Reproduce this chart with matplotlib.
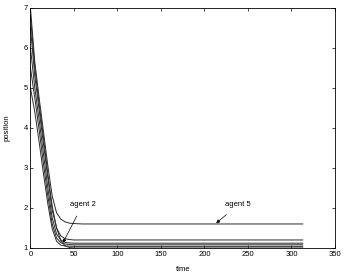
import matplotlib.pyplot as plt

t = [0, 5, 10, 15, 20, 25, 30, 35, 40, 45, 50, 60, 313]
agent_a = [7.0, 5.65, 4.75, 3.9, 3.05, 2.3, 1.88, 1.72, 1.65, 1.62, 1.61, 1.6, 1.6]
agent_b = [6.5, 5.3, 4.45, 3.6, 2.75, 1.95, 1.5, 1.3, 1.23, 1.21, 1.2, 1.2, 1.2]
agent_c = [6.0, 5.0, 4.2, 3.35, 2.5, 1.75, 1.35, 1.2, 1.14, 1.125, 1.12, 1.12, 1.12]
agent_d = [5.5, 4.75, 3.95, 3.1, 2.3, 1.6, 1.25, 1.13, 1.1, 1.085, 1.08, 1.08, 1.08]
agent_e = [5.0, 4.4, 3.65, 2.85, 2.1, 1.48, 1.17, 1.07, 1.05, 1.045, 1.04, 1.04, 1.04]
agent_f = [6.8, 5.5, 4.6, 3.75, 2.85, 2.05, 1.5, 1.18, 1.05, 1.01, 1.0, 1.0, 1.0]

plt.rcParams['font.family'] = ['Liberation Sans', 'DejaVu Sans']
plt.rcParams['font.size'] = 5.5

fig = plt.figure(figsize=(3.46, 2.74), dpi=100)
ax = fig.add_axes([0.088, 0.095, 0.88, 0.876])

for y in [agent_a, agent_b, agent_c, agent_d, agent_e, agent_f]:
    ax.plot(t, y, color='#2a2a2a', linewidth=0.7)

ax.annotate("agent 2", xy=(37.4, 1.13), xytext=(45, 2.08),
            ha='left', va='center',
            arrowprops=dict(arrowstyle='-|>', color='black', lw=0.5,
                            mutation_scale=5, shrinkA=4, shrinkB=0))
ax.annotate("agent 5", xy=(213.5, 1.62), xytext=(224, 2.08),
            ha='left', va='center',
            arrowprops=dict(arrowstyle='-|>', color='black', lw=0.5,
                            mutation_scale=5, shrinkA=4, shrinkB=0))

ax.set_xlim(0, 350)
ax.set_ylim(1, 7)
ax.set_xticks([0, 50, 100, 150, 200, 250, 300, 350])
ax.set_yticks([1, 2, 3, 4, 5, 6, 7])
ax.tick_params(direction='in', length=2, width=0.5, top=True, right=True, pad=2)
for s in ax.spines.values():
    s.set_linewidth(0.6)
ax.set_xlabel("time", labelpad=6)
ax.set_ylabel("position", labelpad=9)

fig.savefig("out.png", dpi=100)
